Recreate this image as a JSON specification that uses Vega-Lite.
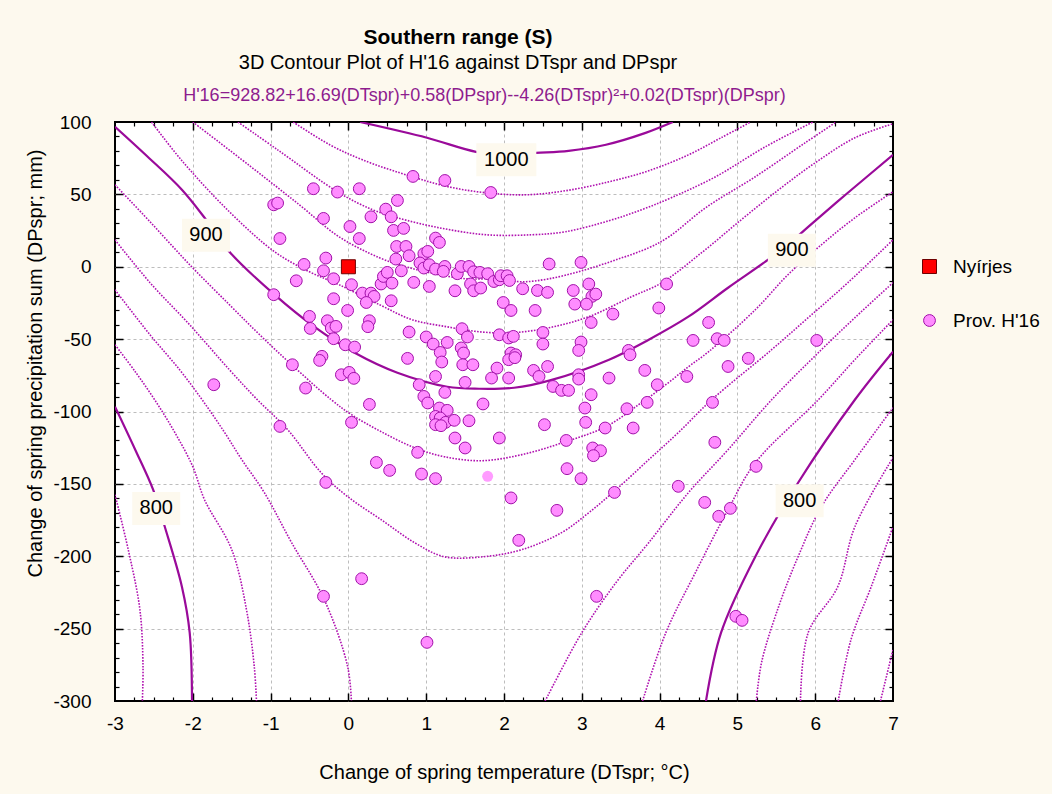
{
"$schema":"https://vega.github.io/schema/vega-lite/v6.json",
"width":778,"height":579,
"autosize":{"type":"none"},
"padding":{"left":115,"top":122,"right":159,"bottom":93},
"background":"#FDF9EE",
"title":{"text":"Southern range (S)","subtitle":"3D Contour Plot of H'16 against DTspr and DPspr","anchor":"middle","frame":"group","dx":-46,"offset":13,"font":"Liberation Sans","fontSize":21,"fontWeight":"bold","color":"black","subtitleFont":"Liberation Sans","subtitleFontSize":20,"subtitleColor":"black","subtitlePadding":5},
"config":{
 "view":{"fill":"white","stroke":"black","strokeWidth":2},
 "font":"Liberation Sans",
 "axis":{"labelFont":"Liberation Sans","titleFont":"Liberation Sans","labelColor":"black","titleColor":"black","titleFontWeight":"normal"},
 "legend":{"orient":"none","legendX":805,"legendY":135,"title":null,"labelFont":"Liberation Sans","labelFontSize":19,"labelColor":"black","rowPadding":34,"labelOffset":14,"padding":0,"symbolStrokeWidth":1}
},
"resolve":{"axis":{"x":"independent","y":"independent"}},
"datasets":{
"lines":[
{"s":"1000","T":0.15,"P":100},{"s":"1000","T":1.01,"P":89.1},{"s":"1000","T":1.64,"P":79.4},{"s":"1000","T":2.0,"P":77.3},{"s":"1000","T":2.41,"P":78.7},{"s":"1000","T":2.83,"P":80.1},{"s":"1000","T":3.31,"P":84.3},{"s":"1000","T":3.82,"P":92.5},{"s":"1000","T":4.17,"P":100},
{"s":"980","T":-0.71,"P":100},{"s":"980","T":-0.24,"P":84.3},{"s":"980","T":0.18,"P":73.9},{"s":"980","T":0.82,"P":62.2},{"s":"980","T":1.29,"P":55.2},{"s":"980","T":1.77,"P":51.1},{"s":"980","T":2.28,"P":49.7},{"s":"980","T":2.79,"P":52.5},{"s":"980","T":3.35,"P":58.7},{"s":"980","T":3.86,"P":66.3},{"s":"980","T":4.37,"P":77.3},{"s":"980","T":4.79,"P":89.1},{"s":"980","T":5.17,"P":100},
{"s":"960","T":-1.42,"P":100},{"s":"960","T":-0.91,"P":80.8},{"s":"960","T":-0.12,"P":51.1},{"s":"960","T":0.31,"P":39.4},{"s":"960","T":0.63,"P":33.8},{"s":"960","T":1.17,"P":26.9},{"s":"960","T":1.77,"P":22.1},{"s":"960","T":2.36,"P":22.1},{"s":"960","T":2.79,"P":24.2},{"s":"960","T":3.35,"P":31.8},{"s":"960","T":3.77,"P":39.4},{"s":"960","T":4.15,"P":47.7},{"s":"960","T":4.72,"P":62.2},{"s":"960","T":5.36,"P":82.9},{"s":"960","T":5.97,"P":100},
{"s":"940","T":-2.0,"P":100},{"s":"940","T":-1.27,"P":69.8},{"s":"940","T":-0.63,"P":42.8},{"s":"940","T":-0.12,"P":20.7},{"s":"940","T":0.4,"P":6.2},{"s":"940","T":0.74,"P":0},{"s":"940","T":1.04,"P":-4.1},{"s":"940","T":1.51,"P":-8.3},{"s":"940","T":1.94,"P":-8.3},{"s":"940","T":2.23,"P":-10.4},{"s":"940","T":2.58,"P":-8.3},{"s":"940","T":3.0,"P":-2.8},{"s":"940","T":3.44,"P":4.8},{"s":"940","T":3.86,"P":13.1},{"s":"940","T":4.12,"P":20.7},{"s":"940","T":4.59,"P":40.7},{"s":"940","T":5.23,"P":62.2},{"s":"940","T":5.87,"P":85.6},{"s":"940","T":6.27,"P":100},
{"s":"920","T":-2.53,"P":100},{"s":"920","T":-2.15,"P":73.9},{"s":"920","T":-1.53,"P":38.0},{"s":"920","T":-0.95,"P":10.4},{"s":"920","T":-0.5,"P":-3.5},{"s":"920","T":-0.12,"P":-12.4},{"s":"920","T":0.4,"P":-26.2},{"s":"920","T":0.82,"P":-36.6},{"s":"920","T":1.26,"P":-41.4},{"s":"920","T":1.68,"P":-44.9},{"s":"920","T":2.1,"P":-45.6},{"s":"920","T":2.58,"P":-42.1},{"s":"920","T":3.09,"P":-34.5},{"s":"920","T":3.64,"P":-20.7},{"s":"920","T":4.03,"P":-11.0},{"s":"920","T":4.54,"P":9.7},{"s":"920","T":5.05,"P":32.5},{"s":"920","T":5.53,"P":53.2},{"s":"920","T":6.0,"P":71.8},{"s":"920","T":6.51,"P":89.1},{"s":"920","T":7.0,"P":98.8},
{"s":"900","T":-3.0,"P":96.7},{"s":"900","T":-2.58,"P":76.0},{"s":"900","T":-2.14,"P":53.2},{"s":"900","T":-1.83,"P":32.5},{"s":"900","T":-1.53,"P":10.4},{"s":"900","T":-0.95,"P":-19.3},{"s":"900","T":-0.44,"P":-41.4},{"s":"900","T":0.08,"P":-59.4},{"s":"900","T":0.63,"P":-73.2},{"s":"900","T":1.27,"P":-82.9},{"s":"900","T":1.68,"P":-84.3},{"s":"900","T":2.13,"P":-83.6},{"s":"900","T":2.58,"P":-78.7},{"s":"900","T":3.35,"P":-64.2},{"s":"900","T":3.86,"P":-50.4},{"s":"900","T":4.37,"P":-34.5},{"s":"900","T":4.88,"P":-14.5},{"s":"900","T":5.36,"P":3.5},{"s":"900","T":5.65,"P":15.2},{"s":"900","T":5.91,"P":27.6},{"s":"900","T":6.42,"P":51.1},{"s":"900","T":7.0,"P":77.3},
{"s":"880","T":-3.0,"P":56.6},{"s":"880","T":-2.55,"P":31.1},{"s":"880","T":-2.04,"P":1.4},{"s":"880","T":-1.53,"P":-26.2},{"s":"880","T":-1.14,"P":-47.0},{"s":"880","T":-0.73,"P":-67.7},{"s":"880","T":-0.22,"P":-91.9},{"s":"880","T":0.04,"P":-102.2},{"s":"880","T":0.42,"P":-113.9},{"s":"880","T":0.85,"P":-125.0},{"s":"880","T":1.23,"P":-131.2},{"s":"880","T":1.71,"P":-134.0},{"s":"880","T":2.23,"P":-129.8},{"s":"880","T":2.79,"P":-120.9},{"s":"880","T":3.31,"P":-110.5},{"s":"880","T":3.73,"P":-95.3},{"s":"880","T":4.08,"P":-81.5},{"s":"880","T":4.37,"P":-69.1},{"s":"880","T":4.63,"P":-58.7},{"s":"880","T":5.23,"P":-29.7},{"s":"880","T":5.65,"P":-5.5},{"s":"880","T":6.08,"P":15.2},{"s":"880","T":6.51,"P":33.8},{"s":"880","T":7.0,"P":51.8},
{"s":"860","T":-3.0,"P":18.6},{"s":"860","T":-2.55,"P":-11.0},{"s":"860","T":-2.04,"P":-40.1},{"s":"860","T":-1.53,"P":-71.1},{"s":"860","T":-1.17,"P":-91.9},{"s":"860","T":-0.78,"P":-112.6},{"s":"860","T":-0.35,"P":-142.3},{"s":"860","T":-0.01,"P":-158.8},{"s":"860","T":0.42,"P":-174.7},{"s":"860","T":0.85,"P":-190.6},{"s":"860","T":1.23,"P":-200.3},{"s":"860","T":1.74,"P":-200.3},{"s":"860","T":2.23,"P":-195.4},{"s":"860","T":2.74,"P":-183.7},{"s":"860","T":3.09,"P":-169.9},{"s":"860","T":3.44,"P":-154.0},{"s":"860","T":3.86,"P":-133.3},{"s":"860","T":4.24,"P":-114.6},{"s":"860","T":4.67,"P":-91.9},{"s":"860","T":5.44,"P":-57.3},{"s":"860","T":5.91,"P":-35.2},{"s":"860","T":6.42,"P":-11.0},{"s":"860","T":7.0,"P":18.6},
{"s":"840L","T":-3.0,"P":-15.9},{"s":"840L","T":-2.55,"P":-47.0},{"s":"840L","T":-2.17,"P":-71.1},{"s":"840L","T":-1.88,"P":-91.9},{"s":"840L","T":-1.59,"P":-114.6},{"s":"840L","T":-1.37,"P":-133.3},{"s":"840L","T":-1.08,"P":-156.1},{"s":"840L","T":-0.73,"P":-190.6},{"s":"840L","T":-0.31,"P":-230.0},{"s":"840L","T":-0.01,"P":-276.2},{"s":"840L","T":0.04,"P":-302},
{"s":"840R","T":2.51,"P":-302},{"s":"840R","T":3.0,"P":-252.8},{"s":"840R","T":3.44,"P":-218.2},{"s":"840R","T":3.86,"P":-190.6},{"s":"840R","T":4.37,"P":-156.1},{"s":"840R","T":4.88,"P":-126.4},{"s":"840R","T":5.44,"P":-91.9},{"s":"840R","T":6.08,"P":-57.3},{"s":"840R","T":6.51,"P":-35.2},{"s":"840R","T":7.0,"P":-11.0},
{"s":"820L","T":-3.0,"P":-53.9},{"s":"820L","T":-2.74,"P":-72.5},{"s":"820L","T":-2.49,"P":-91.9},{"s":"820L","T":-2.23,"P":-114.6},{"s":"820L","T":-2.0,"P":-138.1},{"s":"820L","T":-1.85,"P":-160.9},{"s":"820L","T":-1.5,"P":-195.4},{"s":"820L","T":-1.31,"P":-236.9},{"s":"820L","T":-1.21,"P":-276.2},{"s":"820L","T":-1.18,"P":-302},
{"s":"820R","T":3.77,"P":-302},{"s":"820R","T":4.08,"P":-252.8},{"s":"820R","T":4.46,"P":-211.3},{"s":"820R","T":4.88,"P":-167.8},{"s":"820R","T":5.23,"P":-135.4},{"s":"820R","T":6.04,"P":-91.9},{"s":"820R","T":6.51,"P":-64.2},{"s":"820R","T":7.0,"P":-36.6},
{"s":"800L","T":-3.0,"P":-96.7},{"s":"800L","T":-2.74,"P":-126.4},{"s":"800L","T":-2.51,"P":-154.0},{"s":"800L","T":-2.36,"P":-179.6},{"s":"800L","T":-2.14,"P":-221.0},{"s":"800L","T":-2.04,"P":-252.8},{"s":"800L","T":-2.01,"P":-302},
{"s":"800R","T":4.59,"P":-302},{"s":"800R","T":4.79,"P":-252.8},{"s":"800R","T":5.23,"P":-200.3},{"s":"800R","T":5.78,"P":-149.2},{"s":"800R","T":6.51,"P":-91.9},{"s":"800R","T":7.0,"P":-58.7},
{"s":"780L","T":-3.0,"P":-157.5},{"s":"780L","T":-2.83,"P":-195.4},{"s":"780L","T":-2.68,"P":-236.9},{"s":"780L","T":-2.64,"P":-276.2},{"s":"780L","T":-2.65,"P":-302},
{"s":"780R","T":5.24,"P":-302},{"s":"780R","T":5.31,"P":-273.5},{"s":"780R","T":5.53,"P":-234.8},{"s":"780R","T":5.78,"P":-200.3},{"s":"780R","T":6.08,"P":-165.7},{"s":"780R","T":6.51,"P":-133.3},{"s":"780R","T":7.0,"P":-97.4},
{"s":"760","T":5.81,"P":-302},{"s":"760","T":5.91,"P":-252.8},{"s":"760","T":6.29,"P":-221.0},{"s":"760","T":6.51,"P":-179.6},{"s":"760","T":7.0,"P":-131.9},
{"s":"740","T":6.29,"P":-302},{"s":"740","T":6.46,"P":-257.6},{"s":"740","T":6.72,"P":-221.0},{"s":"740","T":7.0,"P":-179.6},
{"s":"720","T":6.83,"P":-302},{"s":"720","T":7.0,"P":-264.5}
],
"labels":[
{"label":"1000","T":2.03,"P":73.9},{"label":"900","T":-1.83,"P":21.8},{"label":"900","T":5.70,"P":11.4},{"label":"800","T":-2.47,"P":-167},{"label":"800","T":5.80,"P":-161.6}
],
"light":[{"T":1.79,"P":-144.8}],
"pts":[
{"T":0.83,"P":62.4,"series":"Prov. H'16"},{"T":1.24,"P":59.6,"series":"Prov. H'16"},{"T":1.83,"P":51.3,"series":"Prov. H'16"},{"T":-0.45,"P":53.9,"series":"Prov. H'16"},{"T":-0.14,"P":51.6,"series":"Prov. H'16"},{"T":0.14,"P":53.9,"series":"Prov. H'16"},{"T":-0.96,"P":42.8,"series":"Prov. H'16"},{"T":-0.91,"P":44.0,"series":"Prov. H'16"},{"T":0.63,"P":45.8,"series":"Prov. H'16"},{"T":0.48,"P":39.8,"series":"Prov. H'16"},
{"T":-0.32,"P":33.4,"series":"Prov. H'16"},{"T":0.29,"P":34.5,"series":"Prov. H'16"},{"T":0.55,"P":34.5,"series":"Prov. H'16"},{"T":0.02,"P":27.8,"series":"Prov. H'16"},{"T":0.58,"P":25.1,"series":"Prov. H'16"},{"T":0.71,"P":26.5,"series":"Prov. H'16"},{"T":-0.88,"P":19.5,"series":"Prov. H'16"},{"T":0.14,"P":19.5,"series":"Prov. H'16"},{"T":1.12,"P":19.8,"series":"Prov. H'16"},{"T":1.17,"P":16.8,"series":"Prov. H'16"},
{"T":0.62,"P":14.0,"series":"Prov. H'16"},{"T":0.74,"P":14.0,"series":"Prov. H'16"},{"T":-0.29,"P":6.0,"series":"Prov. H'16"},{"T":-0.57,"P":1.6,"series":"Prov. H'16"},{"T":-0.32,"P":-2.8,"series":"Prov. H'16"},{"T":-0.19,"P":-8.3,"series":"Prov. H'16"},{"T":-0.67,"P":-9.7,"series":"Prov. H'16"},{"T":0.04,"P":-12.4,"series":"Prov. H'16"},{"T":0.18,"P":-18.2,"series":"Prov. H'16"},{"T":0.29,"P":-18.2,"series":"Prov. H'16"},
{"T":0.33,"P":-20.5,"series":"Prov. H'16"},{"T":0.23,"P":-24.7,"series":"Prov. H'16"},{"T":-0.19,"P":-22.1,"series":"Prov. H'16"},{"T":-0.96,"P":-19.3,"series":"Prov. H'16"},{"T":-0.01,"P":-30.2,"series":"Prov. H'16"},{"T":-0.5,"P":-34.3,"series":"Prov. H'16"},{"T":-0.49,"P":-42.6,"series":"Prov. H'16"},{"T":-0.27,"P":-37.3,"series":"Prov. H'16"},{"T":-0.22,"P":-42.3,"series":"Prov. H'16"},{"T":-0.16,"P":-41.2,"series":"Prov. H'16"},
{"T":-0.19,"P":-49.7,"series":"Prov. H'16"},{"T":0.27,"P":-37.3,"series":"Prov. H'16"},{"T":0.25,"P":-41.4,"series":"Prov. H'16"},{"T":-0.04,"P":-53.9,"series":"Prov. H'16"},{"T":0.08,"P":-55.5,"series":"Prov. H'16"},{"T":-0.34,"P":-61.9,"series":"Prov. H'16"},{"T":-0.37,"P":-64.7,"series":"Prov. H'16"},{"T":-0.72,"P":-67.7,"series":"Prov. H'16"},{"T":-0.09,"P":-74.6,"series":"Prov. H'16"},{"T":0.01,"P":-73.0,"series":"Prov. H'16"},
{"T":0.07,"P":-77.1,"series":"Prov. H'16"},{"T":-1.73,"P":-81.5,"series":"Prov. H'16"},{"T":-0.55,"P":-83.8,"series":"Prov. H'16"},{"T":0.27,"P":-95.1,"series":"Prov. H'16"},{"T":0.76,"P":-63.3,"series":"Prov. H'16"},{"T":0.78,"P":-45.1,"series":"Prov. H'16"},{"T":0.55,"P":-23.5,"series":"Prov. H'16"},{"T":0.42,"P":-11.9,"series":"Prov. H'16"},{"T":0.45,"P":-6.7,"series":"Prov. H'16"},{"T":0.5,"P":-3.9,"series":"Prov. H'16"},
{"T":0.56,"P":-11.3,"series":"Prov. H'16"},{"T":0.68,"P":-2.8,"series":"Prov. H'16"},{"T":0.84,"P":-10.8,"series":"Prov. H'16"},{"T":1.04,"P":-13.6,"series":"Prov. H'16"},{"T":0.61,"P":5.3,"series":"Prov. H'16"},{"T":0.78,"P":7.6,"series":"Prov. H'16"},{"T":0.97,"P":9.0,"series":"Prov. H'16"},{"T":1.02,"P":10.6,"series":"Prov. H'16"},{"T":0.92,"P":2.6,"series":"Prov. H'16"},{"T":0.97,"P":-0.9,"series":"Prov. H'16"},
{"T":1.04,"P":1.4,"series":"Prov. H'16"},{"T":1.12,"P":-1.6,"series":"Prov. H'16"},{"T":1.24,"P":0.2,"series":"Prov. H'16"},{"T":1.22,"P":-3.2,"series":"Prov. H'16"},{"T":1.37,"P":-16.6,"series":"Prov. H'16"},{"T":1.4,"P":-4.8,"series":"Prov. H'16"},{"T":1.45,"P":0.2,"series":"Prov. H'16"},{"T":1.55,"P":0.2,"series":"Prov. H'16"},{"T":1.57,"P":-11.9,"series":"Prov. H'16"},{"T":1.61,"P":-16.6,"series":"Prov. H'16"},
{"T":1.61,"P":-3.5,"series":"Prov. H'16"},{"T":1.7,"P":-14.7,"series":"Prov. H'16"},{"T":1.69,"P":-3.9,"series":"Prov. H'16"},{"T":1.79,"P":-4.8,"series":"Prov. H'16"},{"T":1.87,"P":-10.2,"series":"Prov. H'16"},{"T":1.94,"P":-9.0,"series":"Prov. H'16"},{"T":1.96,"P":-6.2,"series":"Prov. H'16"},{"T":2.04,"P":-6.2,"series":"Prov. H'16"},{"T":1.99,"P":-24.7,"series":"Prov. H'16"},{"T":2.09,"P":-30.2,"series":"Prov. H'16"},
{"T":1.46,"P":-42.8,"series":"Prov. H'16"},{"T":1.53,"P":-48.5,"series":"Prov. H'16"},{"T":1.27,"P":-52.3,"series":"Prov. H'16"},{"T":1.0,"P":-48.5,"series":"Prov. H'16"},{"T":1.09,"P":-53.4,"series":"Prov. H'16"},{"T":1.18,"P":-59.2,"series":"Prov. H'16"},{"T":1.45,"P":-56.1,"series":"Prov. H'16"},{"T":1.48,"P":-59.6,"series":"Prov. H'16"},{"T":1.47,"P":-67.7,"series":"Prov. H'16"},{"T":1.6,"P":-67.7,"series":"Prov. H'16"},
{"T":1.2,"P":-65.8,"series":"Prov. H'16"},{"T":1.94,"P":-47.0,"series":"Prov. H'16"},{"T":2.06,"P":-49.2,"series":"Prov. H'16"},{"T":2.09,"P":-59.6,"series":"Prov. H'16"},{"T":2.06,"P":-64.2,"series":"Prov. H'16"},{"T":1.91,"P":-70.0,"series":"Prov. H'16"},{"T":2.06,"P":-76.9,"series":"Prov. H'16"},{"T":1.84,"P":-76.9,"series":"Prov. H'16"},{"T":1.12,"P":-75.8,"series":"Prov. H'16"},{"T":0.91,"P":-81.5,"series":"Prov. H'16"},
{"T":1.5,"P":-79.9,"series":"Prov. H'16"},{"T":1.24,"P":-86.8,"series":"Prov. H'16"},{"T":0.97,"P":-89.6,"series":"Prov. H'16"},{"T":1.02,"P":-94.1,"series":"Prov. H'16"},{"T":1.73,"P":-94.8,"series":"Prov. H'16"},{"T":1.17,"P":-97.6,"series":"Prov. H'16"},{"T":1.27,"P":-99.2,"series":"Prov. H'16"},{"T":1.12,"P":-103.4,"series":"Prov. H'16"},{"T":1.18,"P":-104.5,"series":"Prov. H'16"},{"T":1.25,"P":-107.5,"series":"Prov. H'16"},
{"T":1.36,"P":-106.1,"series":"Prov. H'16"},{"T":1.12,"P":-109.1,"series":"Prov. H'16"},{"T":1.19,"P":-109.8,"series":"Prov. H'16"},{"T":1.55,"P":-106.4,"series":"Prov. H'16"},{"T":2.52,"P":-109.1,"series":"Prov. H'16"},{"T":1.37,"P":-118.3,"series":"Prov. H'16"},{"T":1.94,"P":-118.3,"series":"Prov. H'16"},{"T":1.5,"P":-125.2,"series":"Prov. H'16"},{"T":0.89,"P":-128.2,"series":"Prov. H'16"},{"T":0.04,"P":-107.5,"series":"Prov. H'16"},
{"T":-0.88,"P":-110.3,"series":"Prov. H'16"},{"T":0.36,"P":-135.2,"series":"Prov. H'16"},{"T":0.53,"P":-140.7,"series":"Prov. H'16"},{"T":0.94,"P":-143.2,"series":"Prov. H'16"},{"T":1.12,"P":-146.4,"series":"Prov. H'16"},{"T":2.09,"P":-159.7,"series":"Prov. H'16"},{"T":-0.29,"P":-149.0,"series":"Prov. H'16"},{"T":0.17,"P":-215.5,"series":"Prov. H'16"},{"T":-0.32,"P":-227.7,"series":"Prov. H'16"},{"T":1.01,"P":-259.5,"series":"Prov. H'16"},
{"T":2.58,"P":1.9,"series":"Prov. H'16"},{"T":2.99,"P":3.0,"series":"Prov. H'16"},{"T":2.07,"P":-9.5,"series":"Prov. H'16"},{"T":2.24,"P":-15.2,"series":"Prov. H'16"},{"T":2.43,"P":-16.4,"series":"Prov. H'16"},{"T":2.56,"P":-17.7,"series":"Prov. H'16"},{"T":2.89,"P":-16.4,"series":"Prov. H'16"},{"T":3.09,"P":-11.9,"series":"Prov. H'16"},{"T":3.13,"P":-20.5,"series":"Prov. H'16"},{"T":3.18,"P":-18.9,"series":"Prov. H'16"},
{"T":2.91,"P":-25.8,"series":"Prov. H'16"},{"T":3.06,"P":-25.8,"series":"Prov. H'16"},{"T":2.4,"P":-30.2,"series":"Prov. H'16"},{"T":3.12,"P":-38.5,"series":"Prov. H'16"},{"T":3.4,"P":-32.7,"series":"Prov. H'16"},{"T":4.09,"P":-11.9,"series":"Prov. H'16"},{"T":3.99,"P":-28.5,"series":"Prov. H'16"},{"T":2.12,"P":-48.1,"series":"Prov. H'16"},{"T":2.5,"P":-45.4,"series":"Prov. H'16"},{"T":2.5,"P":-53.4,"series":"Prov. H'16"},
{"T":2.99,"P":-52.0,"series":"Prov. H'16"},{"T":2.96,"P":-57.8,"series":"Prov. H'16"},{"T":2.15,"P":-60.8,"series":"Prov. H'16"},{"T":2.14,"P":-62.8,"series":"Prov. H'16"},{"T":2.38,"P":-71.6,"series":"Prov. H'16"},{"T":2.45,"P":-75.8,"series":"Prov. H'16"},{"T":2.56,"P":-68.9,"series":"Prov. H'16"},{"T":2.96,"P":-74.6,"series":"Prov. H'16"},{"T":2.96,"P":-77.6,"series":"Prov. H'16"},{"T":2.63,"P":-82.7,"series":"Prov. H'16"},
{"T":2.74,"P":-85.4,"series":"Prov. H'16"},{"T":2.83,"P":-85.4,"series":"Prov. H'16"},{"T":3.12,"P":-88.4,"series":"Prov. H'16"},{"T":3.04,"P":-97.6,"series":"Prov. H'16"},{"T":3.35,"P":-76.9,"series":"Prov. H'16"},{"T":3.6,"P":-57.8,"series":"Prov. H'16"},{"T":3.62,"P":-60.8,"series":"Prov. H'16"},{"T":3.81,"P":-71.6,"series":"Prov. H'16"},{"T":3.97,"P":-81.5,"series":"Prov. H'16"},{"T":3.84,"P":-93.7,"series":"Prov. H'16"},
{"T":3.58,"P":-98.1,"series":"Prov. H'16"},{"T":4.35,"P":-75.8,"series":"Prov. H'16"},{"T":4.43,"P":-50.9,"series":"Prov. H'16"},{"T":4.63,"P":-38.5,"series":"Prov. H'16"},{"T":4.74,"P":-49.7,"series":"Prov. H'16"},{"T":4.83,"P":-50.9,"series":"Prov. H'16"},{"T":4.88,"P":-68.9,"series":"Prov. H'16"},{"T":5.14,"P":-63.3,"series":"Prov. H'16"},{"T":4.68,"P":-93.7,"series":"Prov. H'16"},{"T":6.02,"P":-50.9,"series":"Prov. H'16"},
{"T":3.05,"P":-107.5,"series":"Prov. H'16"},{"T":3.3,"P":-111.4,"series":"Prov. H'16"},{"T":3.66,"P":-111.4,"series":"Prov. H'16"},{"T":2.8,"P":-120.0,"series":"Prov. H'16"},{"T":3.14,"P":-125.2,"series":"Prov. H'16"},{"T":3.24,"P":-127.1,"series":"Prov. H'16"},{"T":3.15,"P":-130.5,"series":"Prov. H'16"},{"T":4.71,"P":-121.3,"series":"Prov. H'16"},{"T":2.81,"P":-139.5,"series":"Prov. H'16"},{"T":2.99,"P":-146.4,"series":"Prov. H'16"},
{"T":5.24,"P":-137.9,"series":"Prov. H'16"},{"T":2.68,"P":-168.3,"series":"Prov. H'16"},{"T":3.42,"P":-155.9,"series":"Prov. H'16"},{"T":4.24,"P":-151.7,"series":"Prov. H'16"},{"T":4.58,"P":-162.8,"series":"Prov. H'16"},{"T":4.76,"P":-172.4,"series":"Prov. H'16"},{"T":4.91,"P":-166.9,"series":"Prov. H'16"},{"T":2.19,"P":-189.0,"series":"Prov. H'16"},{"T":3.19,"P":-227.7,"series":"Prov. H'16"},{"T":4.98,"P":-241.5,"series":"Prov. H'16"},
{"T":5.06,"P":-244.3,"series":"Prov. H'16"},
{"T":0,"P":0,"series":"Nyírjes"}
]
},
"layer":[
{"data":{"name":"lines"},
 "transform":[{"filter":{"not":{"field":"s","oneOf":["1000","900","800L","800R"]}}}],
 "mark":{"type":"line","color":"#B012B0","strokeWidth":1.6,"strokeDash":[1.6,1.4],"clip":true,"interpolate":"catmull-rom"},
 "encoding":{
  "x":{"field":"T","type":"quantitative","scale":{"domain":[-3,7],"nice":false,"zero":false},
       "axis":{"orient":"bottom","values":[-3,-2,-1,0,1,2,3,4,5,6,7],"labelExpr":"'' + datum.value","grid":false,"ticks":false,"domain":false,"labelFontSize":19,"labelPadding":13,"labelFlush":false,"labelOverlap":false,"title":"Change of spring temperature (DTspr;  °C)","titleFontSize":20,"titleY":61,"titleBaseline":"top"}},
  "y":{"field":"P","type":"quantitative","scale":{"domain":[-300,100],"nice":false,"zero":false},
       "axis":{"orient":"left","values":[-300,-250,-200,-150,-100,-50,0,50,100],"labelExpr":"'' + datum.value","grid":false,"ticks":false,"domain":false,"labelFontSize":19,"labelPadding":24,"labelFlush":false,"labelOverlap":false,"title":"Change of spring precipitation sum (DPspr;  mm)","titleFontSize":20,"titleX":-70,"titleY":241,"titleBaseline":"bottom","titleAlign":"center"}},
  "detail":{"field":"s"},
  "order":{"value":null}}},
{"data":{"name":"lines"},
 "transform":[{"filter":{"field":"s","oneOf":["1000","900","800L","800R"]}}],
 "mark":{"type":"line","color":"#9A0A9A","strokeWidth":2.2,"clip":true,"interpolate":"catmull-rom"},
 "encoding":{
  "x":{"field":"T","type":"quantitative","scale":{"domain":[-3,7],"nice":false,"zero":false},
       "axis":{"orient":"bottom","values":[-2,-1,0,1,2,3,4,5,6],"labels":false,"ticks":true,"tickSize":-8,"tickWidth":1.5,"tickColor":"black","domain":false,"grid":true,"gridColor":"#BDBDBD","gridDash":[3,3],"gridWidth":1,"title":null}},
  "y":{"field":"P","type":"quantitative","scale":{"domain":[-300,100],"nice":false,"zero":false},
       "axis":{"orient":"left","values":[-250,-200,-150,-100,-50,0,50],"labels":false,"ticks":true,"tickSize":-8,"tickWidth":1.5,"tickColor":"black","domain":false,"grid":true,"gridColor":"#BDBDBD","gridDash":[3,3],"gridWidth":1,"title":null}},
  "detail":{"field":"s"},
  "order":{"value":null}}},
{"data":{"name":"labels"},
 "transform":[{"filter":"length(datum.label) == 3"}],
 "mark":{"type":"point","shape":"M-1,-0.6875L1,-0.6875L1,0.6875L-1,0.6875Z","size":2304,"filled":true,"color":"#FDF9EE","opacity":1,"strokeWidth":0},
 "encoding":{
  "x":{"field":"T","type":"quantitative","scale":{"domain":[-3,7],"nice":false,"zero":false},
       "axis":{"orient":"bottom","values":[-2.75,-2.5,-2.25,-1.75,-1.5,-1.25,-0.75,-0.5,-0.25,0.25,0.5,0.75,1.25,1.5,1.75,2.25,2.5,2.75,3.25,3.5,3.75,4.25,4.5,4.75,5.25,5.5,5.75,6.25,6.5,6.75],"labels":false,"ticks":true,"tickSize":-4,"tickWidth":1.2,"tickColor":"black","domain":false,"grid":false,"title":null}},
  "y":{"field":"P","type":"quantitative","scale":{"domain":[-300,100],"nice":false,"zero":false},
       "axis":{"orient":"left","values":[-290,-280,-270,-260,-240,-230,-220,-210,-190,-180,-170,-160,-140,-130,-120,-110,-90,-80,-70,-60,-40,-30,-20,-10,10,20,30,40,60,70,80,90],"labels":false,"ticks":true,"tickSize":-4,"tickWidth":1.2,"tickColor":"black","domain":false,"grid":false,"title":null}}}},
{"data":{"name":"labels"},
 "transform":[{"filter":"length(datum.label) == 4"}],
 "mark":{"type":"point","shape":"M-1,-0.55L1,-0.55L1,0.55L-1,0.55Z","size":3600,"filled":true,"color":"#FDF9EE","opacity":1,"strokeWidth":0},
 "encoding":{
  "x":{"field":"T","type":"quantitative","scale":{"domain":[-3,7],"nice":false,"zero":false},
       "axis":{"orient":"top","values":[-2,-1,0,1,2,3,4,5,6],"labels":false,"ticks":true,"tickSize":-8,"tickWidth":1.5,"tickColor":"black","domain":false,"grid":false,
               "title":"H'16=928.82+16.69(DTspr)+0.58(DPspr)--4.26(DTspr)²+0.02(DTspr)(DPspr)","titleColor":"#8E1C8E","titleFontSize":18,"titleFontWeight":"normal","titleX":369,"titleY":-18,"titleBaseline":"bottom","titleAlign":"center"}},
  "y":{"field":"P","type":"quantitative","scale":{"domain":[-300,100],"nice":false,"zero":false},
       "axis":{"orient":"right","values":[-250,-200,-150,-100,-50,0,50],"labels":false,"ticks":true,"tickSize":-8,"tickWidth":1.5,"tickColor":"black","domain":false,"grid":false,"title":null}}}},
{"data":{"name":"labels"},
 "mark":{"type":"text","font":"Liberation Sans","fontSize":20,"color":"black","align":"center","baseline":"middle"},
 "encoding":{
  "x":{"field":"T","type":"quantitative","scale":{"domain":[-3,7],"nice":false,"zero":false},
       "axis":{"orient":"top","values":[-2.75,-2.5,-2.25,-1.75,-1.5,-1.25,-0.75,-0.5,-0.25,0.25,0.5,0.75,1.25,1.5,1.75,2.25,2.5,2.75,3.25,3.5,3.75,4.25,4.5,4.75,5.25,5.5,5.75,6.25,6.5,6.75],"labels":false,"ticks":true,"tickSize":-4,"tickWidth":1.2,"tickColor":"black","domain":false,"grid":false,"title":null}},
  "y":{"field":"P","type":"quantitative","scale":{"domain":[-300,100],"nice":false,"zero":false},
       "axis":{"orient":"right","values":[-290,-280,-270,-260,-240,-230,-220,-210,-190,-180,-170,-160,-140,-130,-120,-110,-90,-80,-70,-60,-40,-30,-20,-10,10,20,30,40,60,70,80,90],"labels":false,"ticks":true,"tickSize":-4,"tickWidth":1.2,"tickColor":"black","domain":false,"grid":false,"title":null}},
  "text":{"field":"label","type":"nominal"}}},
{"data":{"name":"light"},
 "mark":{"type":"point","filled":true,"color":"#FF9CFF","opacity":1,"size":120,"strokeWidth":0},
 "encoding":{
  "x":{"field":"T","type":"quantitative","axis":null},
  "y":{"field":"P","type":"quantitative","axis":null}}},
{"data":{"name":"pts"},
 "mark":{"type":"point","filled":true,"opacity":1,"strokeWidth":1},
 "encoding":{
  "x":{"field":"T","type":"quantitative","axis":null},
  "y":{"field":"P","type":"quantitative","axis":null},
  "color":{"field":"series","type":"nominal","scale":{"domain":["Nyírjes","Prov. H'16"],"range":["#FF0000","#FF8CFF"]}},
  "stroke":{"field":"series","type":"nominal","scale":{"domain":["Nyírjes","Prov. H'16"],"range":["#6E0000","#A010A8"]}},
  "shape":{"field":"series","type":"nominal","scale":{"domain":["Nyírjes","Prov. H'16"],"range":["square","circle"]}},
  "size":{"field":"series","type":"nominal","scale":{"domain":["Nyírjes","Prov. H'16"],"range":[196,140]}}}}
]
}
